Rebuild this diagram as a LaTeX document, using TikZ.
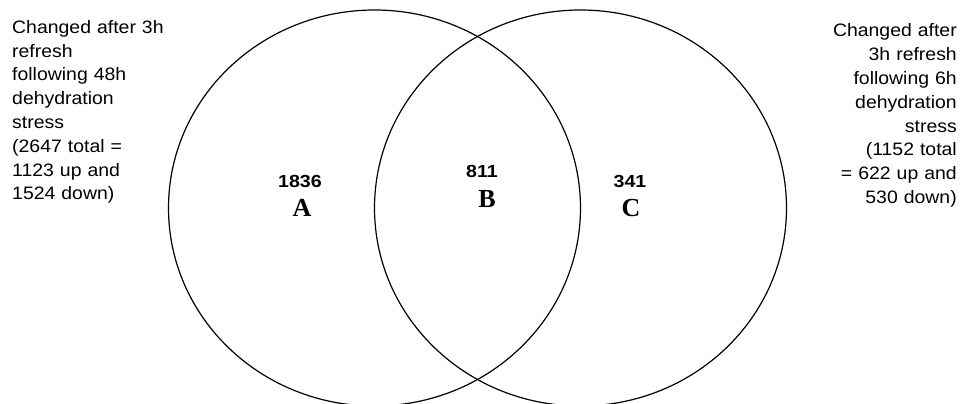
\documentclass[tikz,border=0pt]{standalone}
\usepackage{fontspec}
\setmainfont{Liberation Sans}[FakeStretch=1.08]
\newfontfamily\numfont{Liberation Sans}[FakeStretch=1.12]
\newfontfamily\letfont{Liberation Serif}
\usetikzlibrary{shapes.geometric}

\begin{document}
\begin{tikzpicture}[x=1pt,y=-1pt,
  setring/.style={draw,ellipse,line width=1.2pt,minimum width=412pt,minimum height=396pt,inner sep=0pt},
  sidetext/.style={inner sep=0pt,font=\fontsize{18}{23.8}\selectfont},
  count/.style={inner sep=0pt,anchor=base,font=\numfont\bfseries\fontsize{17.5}{20}\selectfont},
  region/.style={inner sep=0pt,anchor=base,font=\letfont\bfseries\fontsize{26}{28}\selectfont}]
\useasboundingbox (0,0) rectangle (961,404);
\clip (0,0) rectangle (961,404);
% the two sets
\node[setring] (ringL) at (374.5,208) {};
\node[setring] (ringR) at (580.5,208) {};
% side notes
\node[sidetext,anchor=base west,text width=175pt,align=left] (noteL) at (12,33.3)
  {Changed after 3h\\refresh\\following 48h\\dehydration\\stress\\(2647 total =\\1123 up and\\1524 down)};
\node[sidetext,anchor=base east,text width=140pt,align=right] (noteR) at (957,37)
  {Changed after\\3h refresh\\following 6h\\dehydration\\stress\\(1152 total\\= 622 up and\\530 down)};
% counts and region letters
\node[count] (numA) at (300,187) {1836};
\node[region] (letA) at (302,216) {A};
\node[count] (numB) at (482,177) {811};
\node[region] (letB) at (487,207) {B};
\node[count] (numC) at (630,187) {341};
\node[region] (letC) at (631,216) {C};
\end{tikzpicture}
\end{document}
